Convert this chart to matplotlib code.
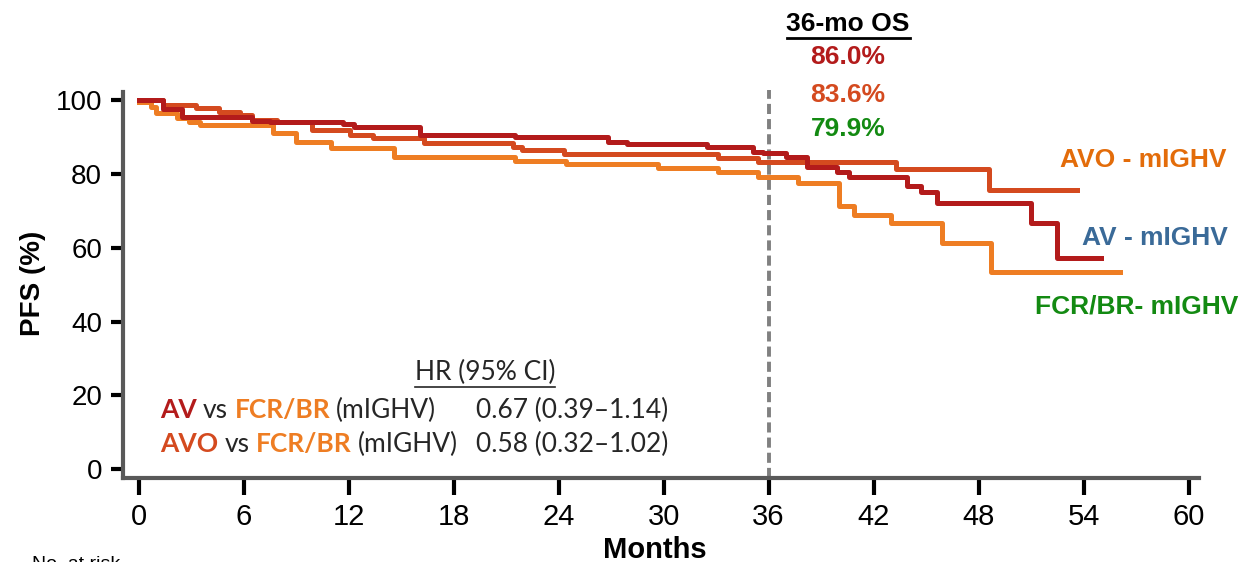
import matplotlib.pyplot as plt
from matplotlib.lines import Line2D

# Kaplan-Meier step points (months, PFS %)
months_av = [0, 1.4, 2.5, 6.5, 7.5, 11.7, 12.3, 16.1, 21.5, 26.8, 27.9, 32.5,
             35.1, 35.7, 37.0, 38.2, 39.9, 40.6, 43.9, 44.7, 45.6, 51.0, 52.5, 55.0]
pfs_av = [100, 97.5, 95.4, 94.3, 94.0, 93.5, 92.7, 90.5, 89.9, 88.6, 88.1, 87.3,
          85.9, 85.6, 84.7, 81.8, 80.5, 79.1, 76.7, 75.1, 72.2, 66.8, 57.2, 57.2]

months_avo = [0, 1.4, 3.3, 4.6, 5.8, 6.5, 7.9, 9.9, 12.1, 13.4, 16.3, 21.4,
              21.9, 24.3, 33.1, 35.4, 43.3, 48.6, 53.6]
pfs_avo = [100, 98.6, 97.8, 96.7, 95.9, 94.6, 94.0, 91.9, 90.5, 89.7, 88.3, 87.3,
           86.4, 85.4, 84.3, 83.2, 81.4, 75.6, 75.6]

months_fcr = [0, 0.7, 1.0, 2.2, 2.9, 3.5, 7.7, 9.0, 11.0, 14.6, 21.5, 24.4, 29.7,
              33.1, 35.4, 37.7, 40.0, 40.9, 43.0, 45.9, 48.7, 56.1]
pfs_fcr = [99.5, 98.1, 96.5, 95.1, 94.0, 93.2, 91.1, 88.6, 87.0, 84.7, 83.5, 82.6,
           81.6, 80.5, 79.1, 77.5, 71.2, 68.8, 66.6, 61.2, 53.4, 53.4]

os_labels = ['86.0%', '83.6%', '79.9%']
os_colors = ['#b31b1b', '#d44a1f', '#138a12']

hr_rows = [
    [('AV', '#b31b1b', 'bold'), ('vs', '#262626', 'normal'),
     ('FCR/BR', '#ee7d23', 'bold'), ('(mIGHV)', '#262626', 'normal')],
    [('AVO', '#d44a1f', 'bold'), ('vs', '#262626', 'normal'),
     ('FCR/BR', '#ee7d23', 'bold'), ('(mIGHV)', '#262626', 'normal')],
]
hr_values = ['0.67 (0.39\u20131.14)', '0.58 (0.32\u20131.02)']

W, H = 1239, 562
fig = plt.figure(figsize=(W / 100, H / 100), dpi=100)

def fx(px):
    return px / W

def fy(py):
    return 1 - py / H

ax = fig.add_axes([fx(123), fy(478), (1199 - 123) / W, (478 - 92) / H])
ax.set_xlim(-0.9, 60.6)
ax.set_ylim(-2.4, 102.2)

ax.step(months_fcr, pfs_fcr, where='post', color='#ee7d23', lw=3.6, zorder=3)
ax.step(months_avo, pfs_avo, where='post', color='#d44a1f', lw=3.6, zorder=4)
ax.step(months_av, pfs_av, where='post', color='#b31b1b', lw=3.6, zorder=5)

ax.plot([36, 36], [-2.4, 102.7], color='#808080', lw=2.8, dashes=(2.6, 1.3),
        clip_on=False, zorder=2)

for side in ['top', 'right']:
    ax.spines[side].set_visible(False)
for side in ['left', 'bottom']:
    ax.spines[side].set_color('#595959')
    ax.spines[side].set_linewidth(3)

ax.set_xticks(range(0, 61, 6))
ax.set_yticks(range(0, 101, 20))
ax.tick_params(axis='x', length=12, width=3, color='black', pad=6)
ax.tick_params(axis='y', length=9, width=3, color='black', pad=6)
for lbl in ax.get_xticklabels():
    lbl.set_family('Liberation Sans')
    lbl.set_fontsize(21)
for lbl in ax.get_yticklabels():
    lbl.set_family('Liberation Sans')
    lbl.set_fontsize(20)

fig.text(fx(33), fy(283), 'PFS (%)', rotation=90, ha='center', va='center',
         fontsize=20, fontweight='bold', family='Liberation Sans')
fig.text(fx(655), fy(550), 'Months', ha='center', va='center',
         fontsize=21, fontweight='bold', family='Liberation Sans')
fig.text(fx(32), fy(556), 'No. at risk', ha='left', va='top',
         fontsize=14, family='Liberation Sans')

# 36-month OS column
fig.text(fx(848), fy(24), '36-mo OS', ha='center', va='center',
         fontsize=19, fontweight='bold', family='Liberation Sans')
fig.add_artist(Line2D([fx(787), fx(910)], [fy(38), fy(38)], color='black', lw=2))
for lab, col, py in zip(os_labels, os_colors, [57, 95, 129]):
    fig.text(fx(848), fy(py), lab, ha='center', va='center', color=col,
             fontsize=19, fontweight='bold', family='Liberation Sans')

# curve names
fig.text(fx(1060), fy(160), 'AVO - mIGHV', ha='left', va='center', color='#e36c0a',
         fontsize=19, fontweight='bold', family='Liberation Sans')
fig.text(fx(1082), fy(238), 'AV - mIGHV', ha='left', va='center', color='#3a6a98',
         fontsize=19, fontweight='bold', family='Liberation Sans')
fig.text(fx(1035), fy(307), 'FCR/BR- mIGHV', ha='left', va='center', color='#138a12',
         fontsize=19, fontweight='bold', family='Liberation Sans')

# hazard ratio table
tbl_font = 'Lato'
tbl_size = 19
renderer = fig.canvas.get_renderer()
space = tbl_size * 0.24 / 72 * fig.dpi / W

fig.text(fx(485), fy(372), 'HR (95% CI)', ha='center', va='center',
         fontsize=tbl_size, color='#262626', family=tbl_font)
fig.add_artist(Line2D([fx(415), fx(555)], [fy(387), fy(387)], color='#262626', lw=1.2))

for parts, value, py in zip(hr_rows, hr_values, [418, 452]):
    x = fx(160)
    for s, col, wt in parts:
        t = fig.text(x, fy(py), s, ha='left', va='baseline', color=col,
                     fontweight=wt, fontsize=tbl_size, family=tbl_font)
        x += t.get_window_extent(renderer).width / W + space
    fig.text(fx(668), fy(py), value, ha='right', va='baseline', color='#262626',
             fontsize=tbl_size, family=tbl_font)

fig.savefig('out.png', dpi=100)
